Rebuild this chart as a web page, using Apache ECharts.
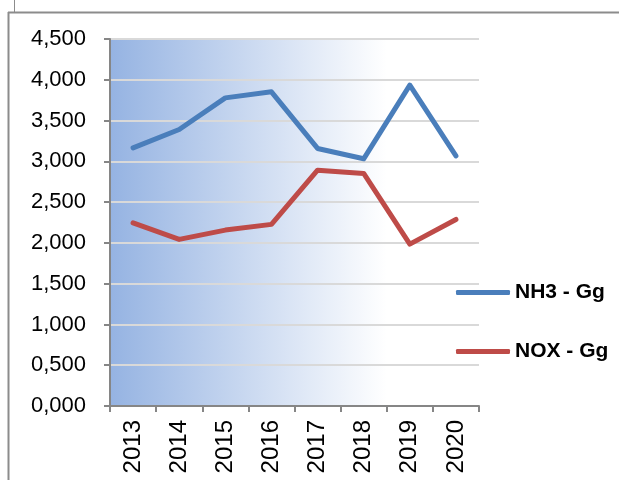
<!DOCTYPE html>
<html>
<head>
<meta charset="utf-8">
<script src="https://cdn.jsdelivr.net/npm/echarts@6/dist/echarts.min.js"></script>
<style>
  html, body { margin: 0; padding: 0; background: #fff; }
  #chart { width: 619px; height: 480px; }
</style>
</head>
<body>
<div id="chart"></div>
<script>
// 年份
var years = ["2013", "2014", "2015", "2016", "2017", "2018", "2019", "2020"];
// NH3 排放
var nh3 = [3165, 3390, 3778, 3852, 3158, 3031, 3934, 3068];
// NOX 排放
var nox = [2246, 2043, 2157, 2227, 2892, 2851, 1985, 2287];
// y 轴刻度文字
var yTicks = ["0,000", "0,500", "1,000", "1,500", "2,000", "2,500", "3,000", "3,500", "4,000", "4,500"];

var chartObj = echarts.init(document.getElementById("chart"));

var option = {
  animation: false,
  textStyle: { fontFamily: "Liberation Sans, Arial, sans-serif" },
  // 外框线
  graphic: [
    { type: "line", shape: { x1: 8, y1: 12.5, x2: 619, y2: 12.5 }, style: { stroke: "#8c8c8c", lineWidth: 2 } },
    { type: "line", shape: { x1: 8.5, y1: 12, x2: 8.5, y2: 480 }, style: { stroke: "#8c8c8c", lineWidth: 2 } },
    { type: "line", shape: { x1: 14.5, y1: 0, x2: 14.5, y2: 12 }, style: { stroke: "#8c8c8c", lineWidth: 1 } }
  ],
  grid: {
    left: 110,
    right: 140,
    top: 39,
    bottom: 74,
    show: true,
    borderWidth: 0,
    backgroundColor: new echarts.graphic.LinearGradient(0, 0, 1, 0, [
      { offset: 0, color: "#95b3e2" },
      { offset: 0.75, color: "#ffffff" },
      { offset: 1, color: "#ffffff" }
    ])
  },
  legend: [
    {
      data: ["NH3 - Gg"],
      orient: "vertical",
      left: 451,
      top: 277,
      icon: "roundRect",
      itemWidth: 54,
      itemHeight: 5,
      textStyle: { fontSize: 21, fontWeight: "bold", color: "#000" }
    },
    {
      data: ["NOX - Gg"],
      orient: "vertical",
      left: 451,
      top: 336,
      icon: "roundRect",
      itemWidth: 54,
      itemHeight: 5,
      textStyle: { fontSize: 21, fontWeight: "bold", color: "#000" }
    }
  ],
  xAxis: {
    type: "category",
    data: years,
    boundaryGap: true,
    axisLine: { lineStyle: { color: "#868686", width: 2 } },
    axisTick: { show: true, length: 6, lineStyle: { color: "#868686", width: 2 } },
    axisLabel: {
      rotate: 90,
      interval: 0,
      margin: 14,
      fontSize: 24,
      color: "#000"
    },
    splitLine: { show: false }
  },
  yAxis: {
    type: "value",
    min: 0,
    max: 4500,
    interval: 500,
    axisLine: { show: true, lineStyle: { color: "#868686", width: 2 } },
    axisTick: { show: true, length: 6, lineStyle: { color: "#868686", width: 2 } },
    axisLabel: {
      margin: 24,
      fontSize: 22,
      color: "#000",
      formatter: function (v) {
        return yTicks[Math.round(v / 500)];
      }
    },
    splitLine: { lineStyle: { color: "#d9d9d9", width: 2 } }
  },
  series: [
    {
      name: "NH3 - Gg",
      type: "line",
      data: nh3,
      showSymbol: false,
      symbol: "none",
      itemStyle: { color: "#4a7ebb" },
      lineStyle: { color: "#4a7ebb", width: 5, cap: "round", join: "round" }
    },
    {
      name: "NOX - Gg",
      type: "line",
      data: nox,
      showSymbol: false,
      symbol: "none",
      itemStyle: { color: "#be4b48" },
      lineStyle: { color: "#be4b48", width: 5, cap: "round", join: "round" }
    }
  ]
};

chartObj.setOption(option, true);
window.onresize = function () {
  chartObj.resize();
};
</script>
</body>
</html>
